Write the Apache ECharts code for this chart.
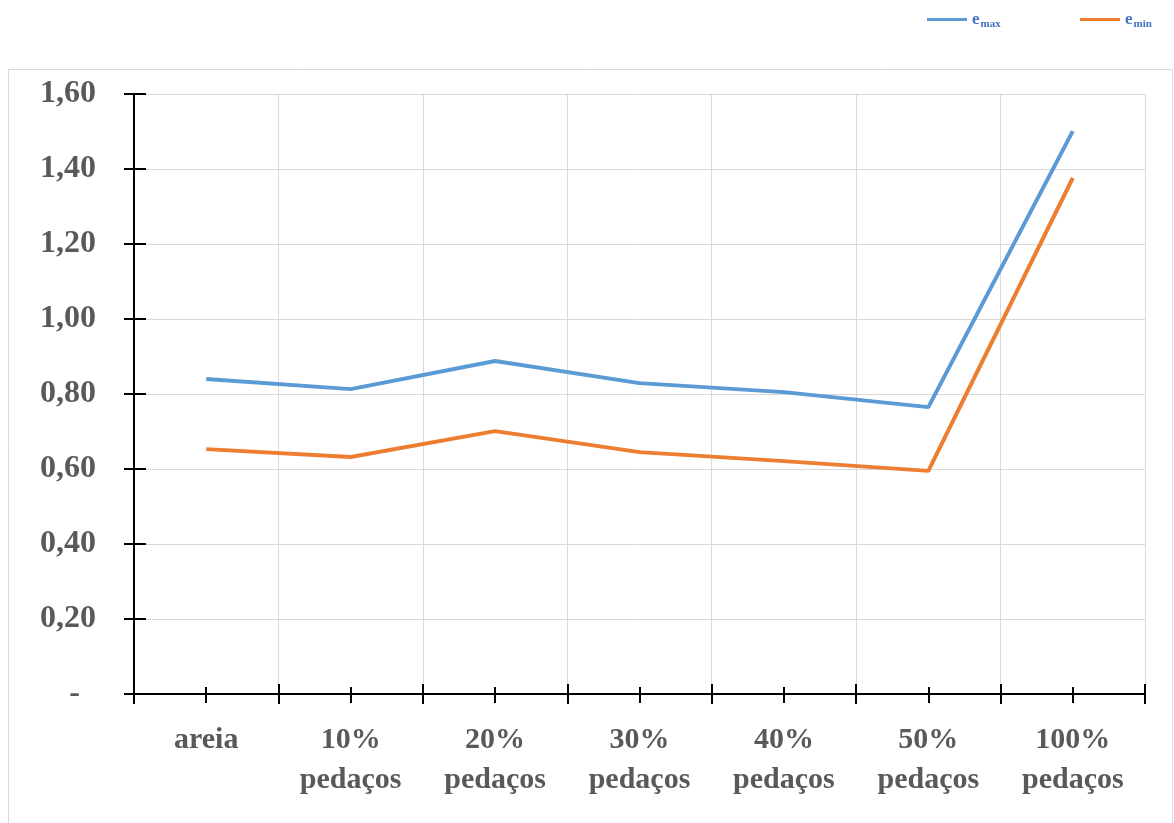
<!DOCTYPE html>
<html>
<head>
<meta charset="utf-8">
<script src="https://cdn.jsdelivr.net/npm/echarts@6/dist/echarts.min.js"></script>
<style>
  html, body { margin: 0; padding: 0; background: #fff; }
  #chart { width: 1174px; height: 823px; }
</style>
</head>
<body>
<div id="chart"></div>
<script>
// data
var categories = ['areia', '10%\npedaços', '20%\npedaços', '30%\npedaços', '40%\npedaços', '50%\npedaços', '100%\npedaços']
var eMax = [0.84, 0.813, 0.888, 0.829, 0.805, 0.765, 1.501]
var eMin = [0.653, 0.632, 0.701, 0.645, 0.621, 0.595, 1.376]
var yTicks = { min: 0, max: 1.6, interval: 0.2 }

var textGray = '#595959'
var serif = '"Liberation Serif", "Times New Roman", serif'

function yLabel (v) {
  if (v === 0) return '-  '
  return v.toFixed(2).replace('.', ',')
}

var chart = echarts.init(document.getElementById('chart'))

// hidden helper axes just add the tick halves that cross the axis lines
function xAxisBase (extra) {
  return Object.assign({
    type: 'category',
    data: categories,
    position: 'bottom',
    boundaryGap: true,
    axisLine: { show: false },
    axisLabel: { show: false },
    splitLine: { show: false },
    axisTick: { show: false }
  }, extra)
}

function yAxisBase (extra) {
  return Object.assign({
    type: 'value',
    min: yTicks.min,
    max: yTicks.max,
    interval: yTicks.interval,
    position: 'left',
    axisLine: { show: false },
    axisLabel: { show: false },
    splitLine: { show: false },
    axisTick: { show: false }
  }, extra)
}

var legendText = {
  fontFamily: serif,
  color: '#4472C4',
  rich: {
    e: { fontSize: 17, fontWeight: 'bold', color: '#4472C4', fontFamily: serif },
    s: { fontSize: 11, fontWeight: 'bold', color: '#4472C4', fontFamily: serif, padding: [9, 0, 0, 1] }
  }
}

chart.setOption({
  animation: false,
  graphic: [{
    type: 'rect',
    shape: { x: 8.5, y: 69.5, width: 1164, height: 780 },
    style: { fill: 'none', stroke: '#d9d9d9', lineWidth: 1 },
    z: -1
  }],
  legend: [
    {
      data: ['emax'],
      left: 922,
      top: 6,
      icon: 'rect',
      itemWidth: 40,
      itemHeight: 3,
      itemGap: 12,
      formatter: function () { return '{e|e}{s|max}' },
      textStyle: legendText
    },
    {
      data: ['emin'],
      left: 1075,
      top: 6,
      icon: 'rect',
      itemWidth: 40,
      itemHeight: 3,
      itemGap: 12,
      formatter: function () { return '{e|e}{s|min}' },
      textStyle: legendText
    }
  ],
  grid: {
    left: 134,
    right: 29,
    top: 94,
    bottom: 129
  },
  xAxis: [
    xAxisBase({
      axisLine: { show: true, lineStyle: { color: '#000', width: 2 } },
      axisTick: { show: true, length: 10, lineStyle: { color: '#000', width: 2 } },
      splitLine: { show: true, lineStyle: { color: '#d9d9d9', width: 1 } },
      axisLabel: {
        show: true,
        interval: 0,
        margin: 26,
        color: textGray,
        fontFamily: serif,
        fontWeight: 'bold',
        fontSize: 30,
        lineHeight: 40
      }
    }),
    xAxisBase({ axisTick: { show: true, inside: true, length: 10, lineStyle: { color: '#000', width: 2 } } }),
    xAxisBase({ axisTick: { show: true, alignWithLabel: true, length: 9, lineStyle: { color: '#000', width: 2 } } }),
    xAxisBase({ axisTick: { show: true, alignWithLabel: true, inside: true, length: 7, lineStyle: { color: '#000', width: 2 } } })
  ],
  yAxis: [
    yAxisBase({
      axisLine: { show: true, lineStyle: { color: '#000', width: 2 } },
      axisTick: { show: true, length: 10, lineStyle: { color: '#000', width: 2 } },
      splitLine: { show: true, lineStyle: { color: '#d9d9d9', width: 1 } },
      axisLabel: {
        show: true,
        margin: 38,
        color: textGray,
        fontFamily: serif,
        fontWeight: 'bold',
        fontSize: 32,
        formatter: yLabel
      }
    }),
    yAxisBase({ axisTick: { show: true, inside: true, length: 12, lineStyle: { color: '#000', width: 2 } } })
  ],
  series: [
    {
      name: 'emax',
      type: 'line',
      data: eMax,
      showSymbol: false,
      symbol: 'none',
      color: '#5B9BD5',
      lineStyle: { width: 4, color: '#5B9BD5' },
      z: 3
    },
    {
      name: 'emin',
      type: 'line',
      data: eMin,
      showSymbol: false,
      symbol: 'none',
      color: '#ED7D31',
      lineStyle: { width: 4, color: '#ED7D31' },
      z: 3
    }
  ]
})
</script>
</body>
</html>
